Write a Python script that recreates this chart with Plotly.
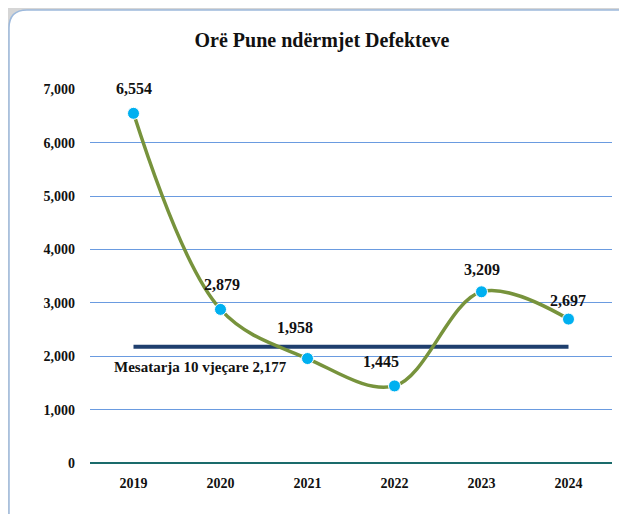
import plotly.graph_objects as go

# data
years = ['2019', '2020', '2021', '2022', '2023', '2024']
hours = [6554, 2879, 1958, 1445, 3209, 2697]
avg_10y = 2177
avg_label = 'Mesatarja 10 vjeçare 2,177'
title = 'Orë Pune ndërmjet Defekteve'

FONT = 'Liberation Serif'
OFF = 8  # page offset of the plot div
W, H = 627 - 2 * OFF, 522 - 2 * OFF
L, T = 90 - OFF, 89 - OFF
pw, ph = 522, 374
R, B = W - L - pw, H - T - ph

# label offsets (px) for the data labels
label_dx = [0, 1, -13, -14, 0, -1]
label_dy = [25, 25, 31, 24, 22, 19]


def px_x(v):
    return (v - OFF - L) / pw


def px_y(v):
    return (H - B - (v - OFF)) / ph


fig = go.Figure()

# 10-year average line
fig.add_trace(go.Scatter(
    x=[years[0], years[-1]], y=[avg_10y, avg_10y], mode='lines',
    line=dict(color='#1f3f6e', width=4), hoverinfo='skip', showlegend=False))

# main series
fig.add_trace(go.Scatter(
    x=years, y=hours, mode='lines+markers',
    line=dict(color='#77933c', width=3.5, shape='spline', smoothing=1.0),
    marker=dict(color='#00b0f0', size=12, line=dict(color='white', width=1)),
    showlegend=False))

# data labels (category index positions)
for i, v in enumerate(hours):
    fig.add_annotation(x=i, y=v, xref='x', yref='y', text=f'{v:,}', showarrow=False,
                       xanchor='center', yanchor='middle',
                       xshift=label_dx[i], yshift=label_dy[i],
                       font=dict(family=FONT, size=16, color='#111111', weight='bold'))

# rounded white panel behind the chart
x0, x1 = px_x(9), px_x(660)
y0, y1 = px_y(535), px_y(10)
rx, ry = 18 / pw, 18 / ph
path = (f'M {x0 + rx},{y1} L {x1 - rx},{y1} Q {x1},{y1} {x1},{y1 - ry} '
        f'L {x1},{y0 + ry} Q {x1},{y0} {x1 - rx},{y0} L {x0 + rx},{y0} '
        f'Q {x0},{y0} {x0},{y0 + ry} L {x0},{y1 - ry} Q {x0},{y1} {x0 + rx},{y1} Z')
fig.add_shape(type='path', path=path, xref='paper', yref='paper', layer='below',
              fillcolor='white', line=dict(color='#9db9dc', width=1.5))

fig.add_annotation(x=0, y=avg_10y, xref='x', yref='y', text=avg_label,
                   showarrow=False, xanchor='left', yanchor='top', xshift=-22, yshift=-10,
                   font=dict(family=FONT, size=15, color='#111111', weight='bold'))

fig.update_layout(
    width=W, height=H,
    margin=dict(l=L, r=R, t=T, b=B),
    paper_bgcolor='#d6d6d6', plot_bgcolor='rgba(0,0,0,0)',
    title=dict(text=title, x=(322 - OFF) / W, xanchor='center', xref='container',
               y=1 - (40 - OFF) / H, yanchor='middle',
               font=dict(family=FONT, size=20, color='#111111', weight='bold')),
    font=dict(family=FONT, color='#111111'),
)
fig.update_xaxes(type='category', categoryorder='array', categoryarray=years,
                 range=[-0.5, 5.5], showgrid=False, showline=False,
                 ticks='', tickfont=dict(family=FONT, size=14, color='#111111', weight='bold'),
                 ticklabelstandoff=10)
fig.update_yaxes(range=[0, 7010], tickvals=[0, 1000, 2000, 3000, 4000, 5000, 6000, 7000],
                 tickformat=',', showgrid=True,
                 gridcolor='#6a9be0', gridwidth=1, zeroline=True, zerolinecolor='#1a6b6b',
                 zerolinewidth=1.5, showline=False, ticks='', ticklabelstandoff=14,
                 tickfont=dict(family=FONT, size=14, color='#111111', weight='bold'))

fig.write_html('out.html')
